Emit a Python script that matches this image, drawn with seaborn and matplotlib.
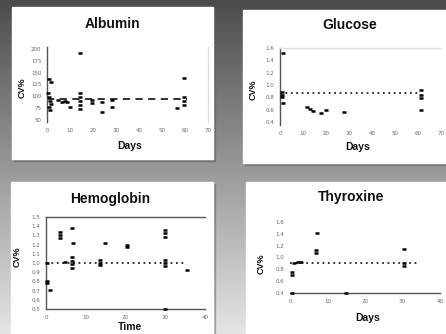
import numpy as np
import pandas as pd
import seaborn as sns
import matplotlib.pyplot as plt
from matplotlib.patches import Rectangle

# values (days, CV%)
albumin_days = [14.3, 0.9, 1.7, 0.4, 0.9, 1.3, 1.7, 0.9, 1.3, 4.8, 6.5, 7.8, 8.7, 10.0,
                14.3, 14.3, 14.3, 14.3, 14.3, 19.6, 19.6, 23.9, 23.9, 28.3, 28.3,
                56.5, 59.6, 59.6, 59.6, 59.6]
albumin_cv = [191, 136, 130, 107, 98, 90, 83, 77, 71, 92, 88, 90, 88, 77,
              107, 98, 90, 81, 73, 92, 86, 88, 67, 92, 77,
              75, 139, 98, 90, 81]
albumin_ref = 95

glucose_days = [1.3, 0.9, 0.9, 0.9, 1.3, 11.6, 12.9, 14.2, 18.0, 20.2, 27.9,
                61.4, 61.4, 61.4, 61.4]
glucose_cv = [1.52, 0.89, 0.84, 0.81, 0.71, 0.64, 0.61, 0.58, 0.55, 0.60, 0.56,
              0.92, 0.84, 0.79, 0.60]
glucose_ref = 0.87

hemoglobin_days = [0.25, 0.25, 0.25, 1.0, 3.5, 3.5, 3.5, 4.8, 6.5, 6.8, 6.5, 6.5, 6.5, 6.5,
                   13.6, 13.6, 13.6, 14.8, 20.4, 20.4, 29.9, 29.9, 29.9, 29.9, 29.9, 29.9,
                   29.9, 35.5]
hemoglobin_cv = [1.0, 0.80, 0.78, 0.71, 1.34, 1.30, 1.27, 1.01, 1.38, 1.22, 1.07, 1.02, 0.99, 0.95,
                 1.03, 1.0, 0.98, 1.22, 1.20, 1.17, 1.36, 1.33, 1.28, 1.03, 1.0, 0.97,
                 0.5, 0.92]
hemoglobin_ref = 1.0

thyroxine_days = [0.5, 0.5, 0.5, 1.0, 2.0, 3.0, 7.2, 7.0, 7.0, 15.0, 30.5, 30.5, 30.5]
thyroxine_cv = [0.40, 0.75, 0.70, 0.91, 0.92, 0.92, 1.41, 1.13, 1.08, 0.40, 1.14, 0.91, 0.86]
thyroxine_ref = 0.91

W, H = 446, 334
fig = plt.figure(figsize=(W / 100, H / 100), dpi=100)

# grey gradient backdrop
bg = fig.add_axes([0, 0, 1, 1], zorder=-10)
grad = np.linspace(0, 1, 256).reshape(-1, 1)
bg.imshow(grad, aspect='auto', cmap=sns.light_palette('#444444', as_cmap=True, reverse=True),
          extent=[0, 1, 0, 1], vmin=-0.05, vmax=1.08)
bg.axis('off')


def px_rect(x0, y0, x1, y1):
    return [x0 / W, 1 - y1 / H, (x1 - x0) / W, (y1 - y0) / H]


# white slides
for x0, y0, x1, y1 in [(12, 7, 213, 159), (243, 10, 450, 163),
                       (11, 182, 213, 340), (246, 182, 450, 340)]:
    fig.patches.append(Rectangle((x0 / W + 0.004, 1 - y1 / H - 0.006), (x1 - x0) / W, (y1 - y0) / H,
                                 transform=fig.transFigure, color='#555555', alpha=0.35, zorder=-5))
    fig.patches.append(Rectangle((x0 / W, 1 - y1 / H), (x1 - x0) / W, (y1 - y0) / H,
                                 transform=fig.transFigure, color='white', zorder=-4))

panels = [
    dict(title='Albumin', days=albumin_days, cv=albumin_cv, ref=albumin_ref, ref_end=61,
         box=(47, 46.6, 208, 122.4), xlim=(0, 70), ylim=(45, 205),
         xticks=range(0, 71, 10), yticks=range(50, 201, 25), xlab='Days',
         title_xy=(112, 24), xlab_xy=(130, 146), ylab_xy=(22, 88),
         ls=(0, (4, 3)), spines=('left',)),
    dict(title='Glucose', days=glucose_days, cv=glucose_cv, ref=glucose_ref, ref_end=61,
         box=(280, 48, 441, 125), xlim=(0, 70), ylim=(0.35, 1.6),
         xticks=range(0, 71, 10), yticks=np.arange(0.4, 1.61, 0.2), xlab='Days',
         title_xy=(350, 25), xlab_xy=(358, 147), ylab_xy=(253, 90),
         ls=(0, (1, 2)), spines=('left', 'top')),
    dict(title='Hemoglobin', days=hemoglobin_days, cv=hemoglobin_cv, ref=hemoglobin_ref, ref_end=35,
         box=(46, 217, 205, 309), xlim=(0, 40), ylim=(0.5, 1.5),
         xticks=range(0, 41, 10), yticks=np.arange(0.5, 1.51, 0.1), xlab='Time',
         title_xy=(110, 199), xlab_xy=(130, 327), ylab_xy=(17, 257),
         ls=(0, (1, 2)), spines=('left', 'top', 'bottom')),
    dict(title='Thyroxine', days=thyroxine_days, cv=thyroxine_cv, ref=thyroxine_ref, ref_end=34,
         box=(290, 219, 440, 293), xlim=(0, 40), ylim=(0.4, 1.65),
         xticks=range(0, 41, 10), yticks=np.arange(0.4, 1.61, 0.2), xlab='Days',
         title_xy=(351, 197), xlab_xy=(368, 318), ylab_xy=(261, 264),
         ls=(0, (1, 2)), spines=('bottom',)),
]

for p in panels:
    x0, y0, x1, y1 = p['box']
    ax = fig.add_axes(px_rect(x0, y0, x1, y1))
    ax.patch.set_alpha(0)
    df = pd.DataFrame({'day': p['days'], 'cv': p['cv']})
    ref = pd.DataFrame({'day': [0, p['ref_end']], 'cv': [p['ref'], p['ref']]})
    sns.lineplot(data=ref, x='day', y='cv', ax=ax, color='#222222', lw=1.3,
                 linestyle=p['ls'], zorder=2)
    sns.scatterplot(data=df, x='day', y='cv', ax=ax, marker='_', s=9, linewidth=1.8,
                    color='black', zorder=3, clip_on=False)
    ax.set_xlim(*p['xlim'])
    ax.set_ylim(*p['ylim'])
    ax.set_xticks(list(p['xticks']))
    ax.set_yticks(list(p['yticks']))
    if isinstance(p['yticks'], range):
        ax.set_yticklabels([str(v) for v in p['yticks']])
    else:
        ax.set_yticklabels([f'{v:.1f}' for v in p['yticks']])
    ax.tick_params(length=0, labelsize=4, colors='#666666', pad=4)
    for side in ['left', 'right', 'top', 'bottom']:
        ax.spines[side].set_visible(side in p['spines'])
        ax.spines[side].set_color('#555555')
        ax.spines[side].set_linewidth(1.0)
    if p['title'] == 'Albumin':
        ax.spines['right'].set_visible(True)
        ax.spines['right'].set_color('#dddddd')
    if p['title'] == 'Glucose':
        ax.spines['top'].set_color('#dddddd')
    ax.set_xlabel('')
    ax.set_ylabel('')
    tx, ty = p['title_xy']
    fig.text(tx / W, 1 - ty / H, p['title'], ha='center', va='center',
             fontsize=10, fontweight='bold', family='Liberation Sans', color='#111111')
    lx, ly = p['xlab_xy']
    fig.text(lx / W, 1 - ly / H, p['xlab'], ha='center', va='center',
             fontsize=7.5, fontweight='bold', family='Liberation Sans', color='#111111')
    yx, yy = p['ylab_xy']
    fig.text(yx / W, 1 - yy / H, 'CV%', ha='center', va='center', rotation=90,
             fontsize=6.5, fontweight='bold', family='Liberation Sans', color='#111111')

fig.savefig('out.png', dpi=100)
